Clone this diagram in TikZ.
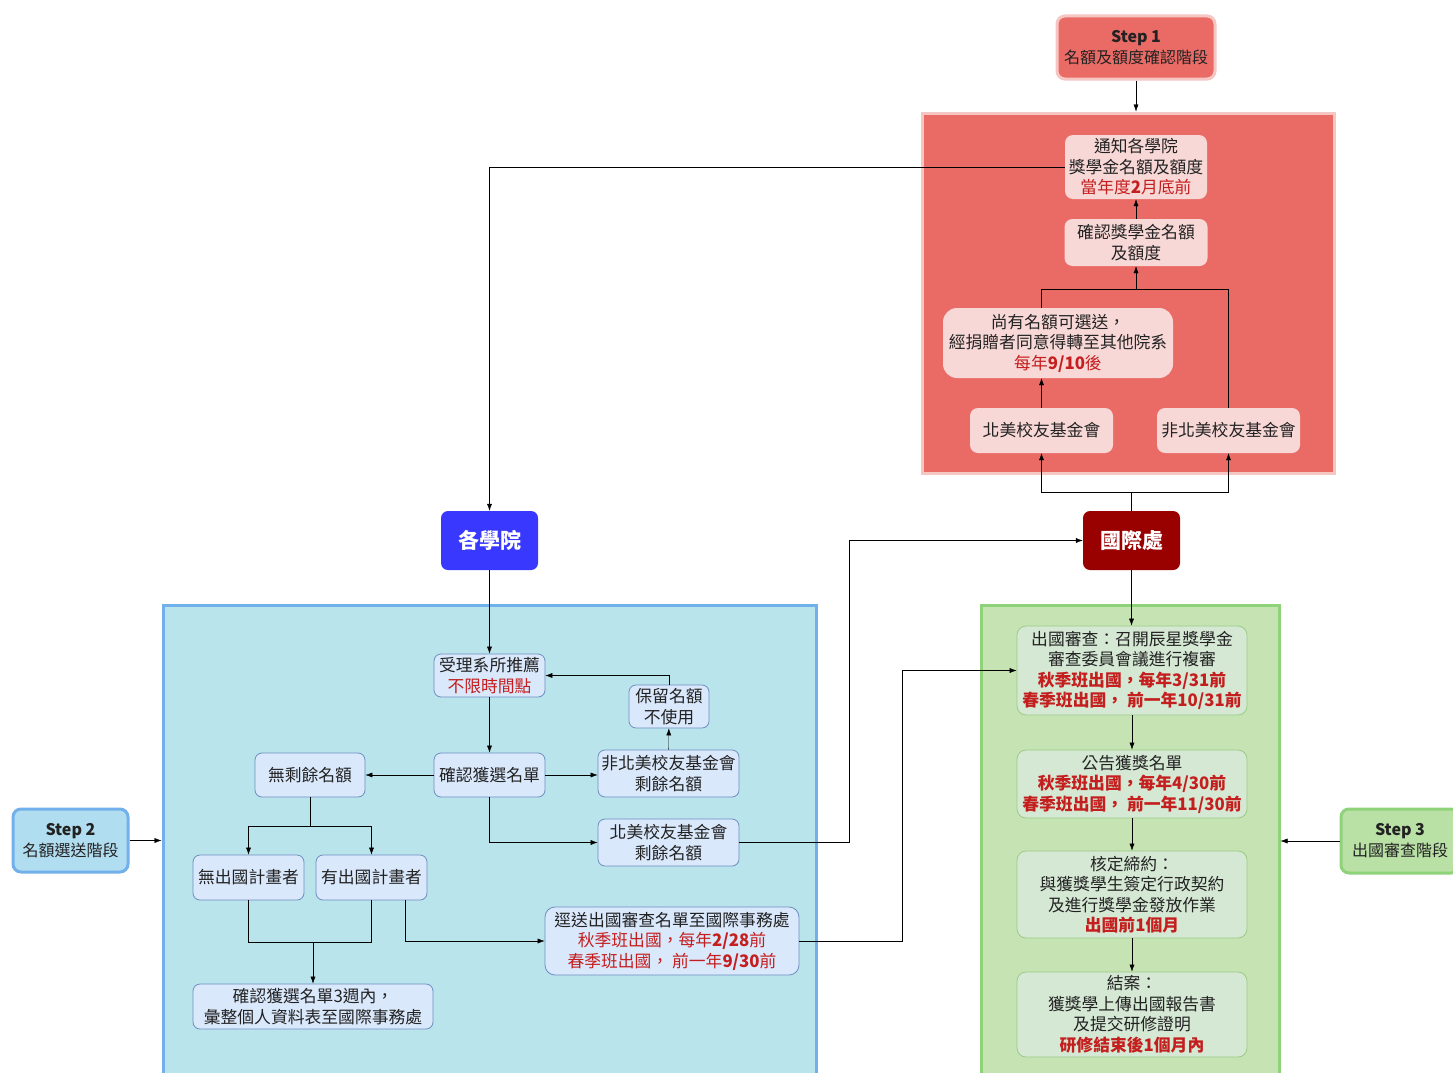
\documentclass[tikz,border=0pt]{standalone}
\usepackage{fontspec}
\setmainfont{Noto Sans CJK TC}[Script=CJK, Language=Chinese Traditional]
\usetikzlibrary{arrows.meta}

\definecolor{redfill}{HTML}{EA6B66}
\definecolor{redline}{HTML}{F6C6C2}
\definecolor{pinknode}{HTML}{F8D8D6}
\definecolor{bluefill}{HTML}{BAE4EC}
\definecolor{blueline}{HTML}{72B0EC}
\definecolor{bluenode}{HTML}{DAE8FC}
\definecolor{bluenodeline}{HTML}{6C8EBF}
\definecolor{greenfill}{HTML}{C6E4B3}
\definecolor{greenline}{HTML}{8ED27A}
\definecolor{greennode}{HTML}{D5E8D4}
\definecolor{greennodeline}{HTML}{9BCB85}
\definecolor{stepblue}{HTML}{B1DDF0}
\definecolor{stepgreen}{HTML}{B9E0A5}
\definecolor{collegeblue}{HTML}{3838FF}
\definecolor{officered}{HTML}{990000}
\definecolor{datered}{HTML}{C41E1E}
\definecolor{txtgray}{HTML}{222222}

\newcommand{\rtxt}[1]{\textcolor{datered}{\textbf{#1}}}
\newcommand{\rdate}[1]{\textcolor{datered}{#1}}

\tikzset{
  >={Latex[length=7pt,width=5pt]},
  txt/.style={text=txtgray, align=center, inner sep=2pt,
    font=\fontsize{16.8}{20.5}\selectfont},
  region/.style={line width=3pt, inner sep=0pt},
  stepbox/.style={txt, line width=3pt, rounded corners=8pt,
    font=\fontsize{16}{21}\selectfont},
  pinkbox/.style={txt, fill=pinknode, rounded corners=8pt},
  bluebox/.style={txt, fill=bluenode, draw=bluenodeline, line width=0.8pt, rounded corners=7pt},
  greenbox/.style={txt, fill=greennode, draw=greennodeline, line width=0.8pt, rounded corners=9pt,
    minimum width=230pt},
  unitbox/.style={text=white, rounded corners=7pt, minimum width=97pt, minimum height=59pt,
    font=\fontsize{21}{24}\selectfont\bfseries},
}

\begin{document}
\begin{tikzpicture}[x=1pt, y=-1pt]

  \clip (0,0) rectangle (1453,1073);
  \fill[white] (0,0) rectangle (1453,1073);

  % Regions
  \node[region, fill=redfill, draw=redline, minimum width=412pt, minimum height=360pt] (zone1) at (1128,293) {};
  \node[region, fill=bluefill, draw=blueline, minimum width=653pt, minimum height=485pt] (zone2) at (489.5,847.5) {};
  \node[region, fill=greenfill, draw=greenline, minimum width=298pt, minimum height=485pt] (zone3) at (1130,847.5) {};

  % Steps
  \node[stepbox, fill=redfill, draw=redline, minimum width=158pt, minimum height=63pt] (s1) at (1136,47.5) {\textbf{Step 1}\\名額及額度確認階段};
  \node[stepbox, fill=stepblue, draw=blueline, minimum width=115pt, minimum height=63pt] (s2) at (70.5,840.5) {\textbf{Step 2}\\名額選送階段};
  \node[stepbox, fill=stepgreen, draw=greenline, minimum width=118pt, minimum height=64pt] (s3) at (1400,841) {\textbf{Step 3}\\出國審查階段};

  \draw[->] (s1) -- (s1 |- zone1.north);
  \draw[->] (s2) -- (s2 -| zone2.west);
  \draw[->] (s3) -- (s3 -| zone3.east);

  % Step 1
  \node[pinkbox, minimum width=142pt, minimum height=64pt] (tz) at (1136,167) {通知各學院\\獎學金名額及額度\\\rdate{當年度\textbf{2}月底前}};
  \node[pinkbox, minimum width=143pt, minimum height=47pt] (qr) at (1136,242.5) {確認獎學金名額\\及額度};
  \node[pinkbox, minimum width=230pt, minimum height=70pt, rounded corners=14pt] (sy) at (1058,343) {尚有名額可選送，\\經捐贈者同意得轉至其他院系\\\rdate{每年\textbf{9/10}後}};
  \node[pinkbox, minimum width=143pt, minimum height=45pt] (bm) at (1041.5,430.5) {北美校友基金會};
  \node[pinkbox, minimum width=143pt, minimum height=45pt] (fbm) at (1228.5,430.5) {非北美校友基金會};

  \coordinate (m1) at (1136,289);
  \draw[->] (qr) -- (tz);
  \draw[->] (bm) -- (bm |- sy.south);
  \draw (bm |- sy.north) |- (m1);
  \draw (fbm.north) |- (m1);
  \draw[->] (m1) -- (qr);

  % Units
  \node[unitbox, fill=collegeblue] (gx) at (489.5,540.5) {各學院};
  \node[unitbox, fill=officered] (gj) at (1131.5,540.5) {國際處};

  \coordinate (m2) at (1131.5,492);
  \draw (gj) -- (m2);
  \draw[->] (m2) -| (bm);
  \draw[->] (m2) -| (fbm);
  \draw[->] (tz.west) -| (gx.north);

  % Step 2
  \node[bluebox, minimum width=111pt, minimum height=43pt] (b1) at (489.5,675.5) {受理系所推薦\\\rdate{不限時間點}};
  \node[bluebox, minimum width=80pt, minimum height=43pt] (b2) at (669,706.5) {保留名額\\不使用};
  \node[bluebox, minimum width=111pt, minimum height=44pt] (b3) at (489.5,775) {確認獲選名單};
  \node[bluebox, minimum width=141pt, minimum height=47pt] (b4) at (668.5,773.5) {非北美校友基金會\\剩餘名額};
  \node[bluebox, minimum width=141pt, minimum height=47pt] (b5) at (668.5,842.5) {北美校友基金會\\剩餘名額};
  \node[bluebox, minimum width=110pt, minimum height=44pt] (b6) at (310,775) {無剩餘名額};
  \node[bluebox, minimum width=111pt, minimum height=45pt] (b7) at (248.5,877.5) {無出國計畫者};
  \node[bluebox, minimum width=111pt, minimum height=45pt] (b8) at (371.5,877.5) {有出國計畫者};
  \node[bluebox, minimum width=240pt, minimum height=45pt] (b9) at (313,1006.5) {確認獲選名單3週內，\\彙整個人資料表至國際事務處};
  \node[bluebox, minimum width=254pt, minimum height=68pt, rounded corners=10pt] (b10) at (672,941) {逕送出國審查名單至國際事務處\\\rdate{秋季班出國，每年\textbf{2/28}前}\\\rdate{春季班出國， 前一年\textbf{9/30}前}};

  \draw[->] (gx) -- (b1);
  \draw[->] (b1) -- (b3);
  \draw[->] (b3.east) -- (b3.east -| b4.west);
  \draw[->] (b4) -- (b2);
  \draw[->] (b2.north) |- (b1.east);
  \draw[->] (b3) -- (b6);
  \draw[->] (b3.south) |- (b5.west);

  \coordinate (m3) at (310,826);
  \draw (b6) -- (m3);
  \draw[->] (m3) -| (b7);
  \draw[->] (m3) -| (b8);

  \coordinate (m4) at (313,942);
  \draw (b7) |- (m4);
  \draw (b8) |- (m4);
  \draw[->] (m4) -- (b9);
  \draw[->] ([xshift=34pt]b8.south) |- (b10.west);

  % Step 3
  \node[greenbox, minimum height=89pt] (g1) at (1132,670.5) {出國審查：召開辰星獎學金\\審查委員會議進行複審\\\rtxt{秋季班出國，每年3/31前}\\\rtxt{春季班出國， 前一年10/31前}};
  \node[greenbox, minimum height=68pt] (g2) at (1132,784) {公告獲獎名單\\\rtxt{秋季班出國，每年4/30前}\\\rtxt{春季班出國， 前一年11/30前}};
  \node[greenbox, minimum height=87pt] (g3) at (1132,894.5) {核定締約：\\與獲獎學生簽定行政契約\\及進行獎學金發放作業\\\rtxt{出國前1個月}};
  \node[greenbox, minimum height=85pt] (g4) at (1132,1014.5) {結案：\\獲獎學上傳出國報告書\\及提交研修證明\\\rtxt{研修結束後1個月內}};

  \draw[->] (gj.south) -- (gj.south |- g1.north);
  \draw[->] (g1) -- (g2);
  \draw[->] (g2) -- (g3);
  \draw[->] (g3) -- (g4);

  \draw[->] (b5.east) -- ++(110,0) |- (gj.west);
  \draw[->] (b10.east) -- ++(103,0) |- (g1.west);

\end{tikzpicture}
\end{document}
